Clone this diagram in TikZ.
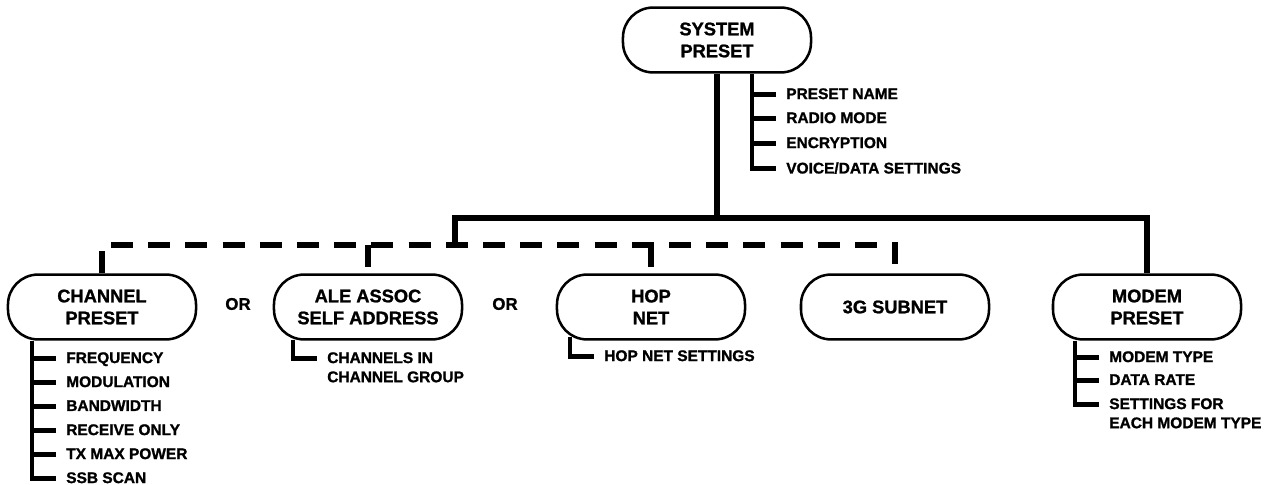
\documentclass[tikz,border=0pt]{standalone}
\usepackage{fontspec}
\setmainfont{Liberation Sans}[BoldFeatures={FakeBold=1.2}]
\usepackage{tikz}
\usetikzlibrary{calc}

\begin{document}
\begin{tikzpicture}[
        x=0.025cm, y=-0.025cm,
        preset/.style={draw, line width=1.8pt, rounded corners=0.75cm,
                       minimum width=4.7cm, minimum height=1.62cm,
                       align=center, font=\fontsize{13}{15.6}\selectfont\bfseries},
        item/.style={anchor=north west, inner sep=0pt, align=left,
                     font=\fontsize{11}{13.6}\selectfont\bfseries},
        orlabel/.style={font=\fontsize{12}{14}\selectfont\bfseries},
        bus/.style={line width=3.6pt},
        busopt/.style={line width=3.8pt, dash pattern=on 0.55cm off 0.38cm},
        twig/.style={line width=3.4pt}
    ]
    \useasboundingbox (0,0) rectangle (1269,485);
    \node[preset] (sys) at (717,40) {SYSTEM\\PRESET};
    \node[preset] (chan) at (102,307) {CHANNEL\\PRESET};
    \node[preset] (ale) at (368,307) {ALE ASSOC\\SELF ADDRESS};
    \node[preset] (hop) at (651,307) {HOP\\NET};
    \node[preset] (sub3g) at (895,307) {3G SUBNET};
    \node[preset] (modem) at (1147,307) {MODEM\\PRESET};
    \node[orlabel] (or1) at (238,304) {OR};
    \node[orlabel] (or2) at (505,304) {OR};
    % solid bus to system preset, dashed bus for the alternatives
    \coordinate (jb) at (455,218);
    \coordinate (jd) at (455,245);
    \draw[bus] (sys.south) -- (sys.south |- jb);
    \draw[bus] (jd) -- (jb) -| (modem.north);
    \draw[busopt] (chan.north) |- (sub3g.north |- jd) -- (sub3g.north);
    \draw[busopt] (ale.north |- jd) -- (ale.north);
    \draw[busopt] (hop.north |- jd) -- (hop.north);
    % system preset settings
    \coordinate (sr) at ($(sys.south)+(35,0)$);
    \node[item] (s1) at (786,88) {PRESET NAME};
    \node[item] (s2) at (786,112) {RADIO MODE};
    \node[item] (s3) at (786,137) {ENCRYPTION};
    \node[item] (s4) at (786,162) {VOICE/DATA SETTINGS};
    \draw[twig] (sr) |- ($(s4.north west)+(-10,6.5)$);
    \draw[twig] ($(s1.north west)+(-10,6.5)$) -- ++(-24,0);
    \draw[twig] ($(s2.north west)+(-10,6.5)$) -- ++(-24,0);
    \draw[twig] ($(s3.north west)+(-10,6.5)$) -- ++(-24,0);
    % channel preset settings
    \coordinate (cr) at ($(chan.south)+(-70,0)$);
    \node[item] (c1) at (66,352) {FREQUENCY};
    \node[item] (c2) at (66,376) {MODULATION};
    \node[item] (c3) at (66,400) {BANDWIDTH};
    \node[item] (c4) at (66,424) {RECEIVE ONLY};
    \node[item] (c5) at (66,448) {TX MAX POWER};
    \node[item] (c6) at (66,472) {SSB SCAN};
    \draw[twig] (cr) |- ($(c6.north west)+(-10,6.5)$);
    \draw[twig] ($(c1.north west)+(-10,6.5)$) -- ++(-24,0);
    \draw[twig] ($(c2.north west)+(-10,6.5)$) -- ++(-24,0);
    \draw[twig] ($(c3.north west)+(-10,6.5)$) -- ++(-24,0);
    \draw[twig] ($(c4.north west)+(-10,6.5)$) -- ++(-24,0);
    \draw[twig] ($(c5.north west)+(-10,6.5)$) -- ++(-24,0);
    % ale, hop net and modem settings
    \coordinate (ar) at ($(ale.south)+(-75,-1)$);
    \node[item] (a1) at (327,352) {CHANNELS IN\\CHANNEL GROUP};
    \draw[twig] (ar) |- ($(a1.north west)+(-10,6.5)$);
    \coordinate (hr) at ($(hop.south)+(-81,-4)$);
    \node[item] (h1) at (604,350) {HOP NET SETTINGS};
    \draw[twig] (hr) |- ($(h1.north west)+(-10,6.5)$);
    \coordinate (mr) at ($(modem.south)+(-72,0)$);
    \node[item] (m1) at (1109,351) {MODEM TYPE};
    \node[item] (m2) at (1109,374) {DATA RATE};
    \node[item] (m3) at (1109,398) {SETTINGS FOR\\EACH MODEM TYPE};
    \draw[twig] (mr) |- ($(m3.north west)+(-10,6.5)$);
    \draw[twig] ($(m1.north west)+(-10,6.5)$) -- ++(-24,0);
    \draw[twig] ($(m2.north west)+(-10,6.5)$) -- ++(-24,0);
\end{tikzpicture}
\end{document}
